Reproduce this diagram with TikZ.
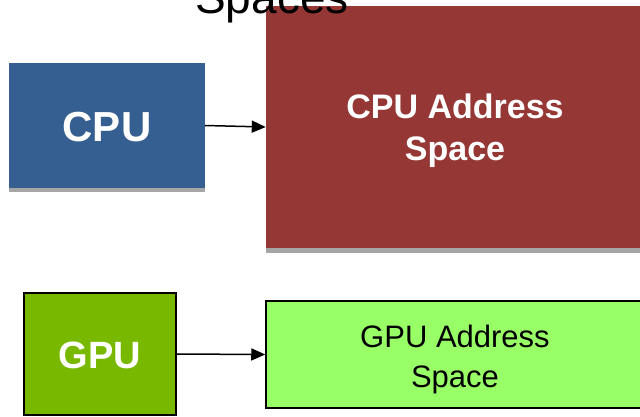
\documentclass[tikz,border=0pt]{standalone}
\usepackage{fontspec}
\setmainfont{Liberation Sans}
\usetikzlibrary{arrows.meta}
\definecolor{cpublue}{RGB}{54,95,145}
\definecolor{cpured}{RGB}{149,55,53}
\definecolor{gpugreen}{RGB}{120,185,0}
\definecolor{gpulight}{RGB}{153,255,102}
\definecolor{shadowgray}{RGB}{166,166,166}
\tikzset{
  box/.style={rectangle, inner sep=0pt, align=center},
  conn/.style={line width=1.5pt, -{Triangle[length=14pt,width=12pt]}},
}
\begin{document}
\begin{tikzpicture}[x=1pt,y=-1pt]
\useasboundingbox (0,0) rectangle (640,416);
\clip (0,0) rectangle (640,416);
\node[box, fill=cpublue, minimum width=196pt, minimum height=125pt, text=white,
  font=\bfseries\fontsize{42}{46}\selectfont] (cpu) at (107,125.5) {};
\node[box, text=white, font=\bfseries\fontsize{42}{46}\selectfont] (cpul) at (107,127) {CPU};
\node[box, fill=cpured, minimum width=378pt, minimum height=242pt] (cas) at (455,127) {};
\node[box, text=white, font=\bfseries\fontsize{34}{42}\selectfont] (casl) at (455,131) {CPU Address\\Space};
\fill[shadowgray] (cpu.south west) rectangle ([yshift=-4pt]cpu.south east);
\fill[shadowgray] (cas.south west) rectangle ([yshift=-5pt]cas.south east);
\node[anchor=base west, inner sep=0pt, font=\fontsize{46}{50}\selectfont] (title) at (195,13) {Spaces};
\node[box, draw=black, line width=1.5pt, fill=gpugreen, minimum width=152pt, minimum height=122pt, text=white,
  font=\bfseries\fontsize{38}{42}\selectfont] (gpu) at (100,354) {};
\node[box, text=white, font=\bfseries\fontsize{38}{42}\selectfont] (gpul) at (100,355) {GPU};
\node[box, draw=black, line width=1.5pt, fill=gpulight, minimum width=378pt, minimum height=107pt] (gas) at (455,354.5) {};
\node[box, text=black, font=\fontsize{31}{40}\selectfont] (gasl) at (455,359) {GPU Address\\Space};
\draw[conn] (cpu.east) -- (cas.west);
\draw[conn] (gpu.east) -- (gas.west);
\end{tikzpicture}
\end{document}
